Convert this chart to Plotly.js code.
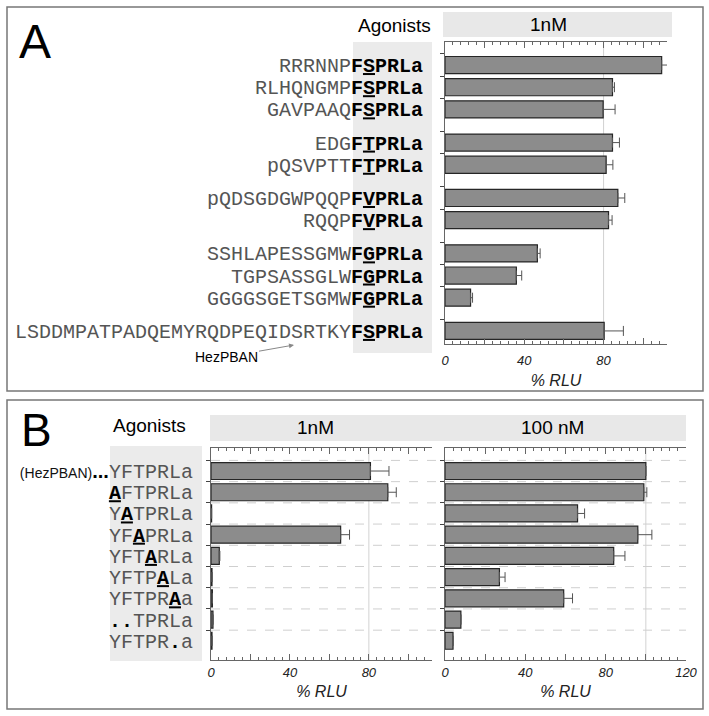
<!DOCTYPE html>
<html>
<head>
<meta charset="utf-8">
<script src="https://cdn.plot.ly/plotly-3.0.1.min.js"></script>
<style>html,body{margin:0;padding:0;background:#fff;}#chart{width:709px;height:716px;}</style>
</head>
<body>
<div id="chart"></div>
<script>
// ---------- Panel A data ----------
const A_prefix = ['RRRNNP','RLHQNGMP','GAVPAAQ','EDG','pQSVPTT','pQDSGDGWPQQP','RQQP','SSHLAPESSGMW','TGPSASSGLW','GGGGSGETSGMW','LSDDMPATPADQEMYRQDPEQIDSRTKY'];
const A_motif  = ['FSPRLa','FSPRLa','FSPRLa','FTPRLa','FTPRLa','FVPRLa','FVPRLa','FGPRLa','FGPRLa','FGPRLa','FSPRLa'];
const A_group  = [0,0,0,1,1,2,2,3,3,3,4];
const A_values = [109.3,84.5,79.8,84.5,81.3,87.2,82.5,46.6,36.0,12.9,80.3];
const A_err    = [4.4,1.0,6.0,3.5,3.4,3.5,1.8,1.4,2.7,1.0,9.7];
const A_ticks  = [0,20,40,60,80,100];
const A_tickLabels = ['0','','40','','80',''];

// ---------- Panel B data ----------
const B_seqs   = ['YFTPRLa','AFTPRLa','YATPRLa','YFAPRLa','YFTARLa','YFTPALa','YFTPRAa','..TPRLa','YFTPR.a'];
const B_mut    = [-1,0,1,2,3,4,5,-1,-1];
const B_1nM    = [80.8,89.6,0.3,65.7,4.2,0.5,0.7,1.0,0.5];
const B_1nM_err= [9.4,4.3,0,4.5,0.3,0,0,0,0];
const B_100nM  = [100,99.0,66.0,96.0,84.0,27.1,59.1,7.9,4.0];
const B_100nM_err = [0,1.5,3.5,7.0,5.6,2.8,4.4,0,0];
const B1_ticks = [0,20,40,60,80,100];
const B1_tickLabels = ['0','','40','','80',''];
const B2_ticks = [0,20,40,60,80,100,120];
const B2_tickLabels = ['0','','40','','80','','120'];

// ---------- helpers ----------
const W = 709, H = 716;
const fx = px => px / W;
const fy = py => 1 - py / H;
const GRAY = '#555';
const SANS = 'Liberation Sans, Arial, sans-serif';
const MONO = 'Liberation Mono, Courier New, monospace';

const A_pos = A_prefix.map((_, i) => i + 0.5 * A_group[i]);
const A_text = A_prefix.map((p, i) => {
  const m = A_motif[i];
  return '<span style="color:' + GRAY + '">' + p + '</span><b>' + m[0] + '<u>' + m[1] + '</u>' + m.slice(2) + '</b>';
});
const B_pos = B_seqs.map((_, i) => i);
const B_text = B_seqs.map((s, i) => {
  let out = '';
  for (let k = 0; k < s.length; k++) {
    const c = s[k];
    if (k === B_mut[i]) out += '<b><u>' + c + '</u></b>';
    else if (c === '.') out += '<b>' + c + '</b>';
    else out += '<span style="color:' + GRAY + '">' + c + '</span>';
  }
  if (i === 0) out = '<span style="font-family:Liberation Sans;font-size:14px;color:#111">(HezPBAN)</span><span style="font-family:Liberation Sans;font-size:20px"><b>...</b></span>' + out;
  return out;
});

function barTrace(x, y, err, xa, ya, w) {
  return {
    type: 'bar', orientation: 'h', x: x, y: y, xaxis: xa, yaxis: ya, width: w,
    marker: { color: '#8c8c8c', line: { color: '#262626', width: 1.2 } },
    error_x: { type: 'data', array: err, arrayminus: err.map(() => 0), symmetric: false,
               color: '#555', thickness: 1, width: 5 },
    hoverinfo: 'x+y', showlegend: false
  };
}

function xAxis(dom, rng, tv, tt, anchor, labelStandoff, titleStandoff) {
  return {
    domain: dom, range: rng, anchor: anchor, fixedrange: true,
    showline: true, linecolor: '#666', linewidth: 1, mirror: 'ticks',
    ticks: 'inside', ticklen: 6, tickcolor: '#666', tickwidth: 1,
    tickmode: 'array', tickvals: tv, ticktext: tt.map(t => t ? '<i>' + t + '</i>' : ''),
    tickfont: { family: SANS, size: 13, color: '#222' },
    ticklabelstandoff: labelStandoff,
    minor: { tickmode: 'linear', tick0: 0, dtick: 4, ticks: 'inside', ticklen: 3, tickcolor: '#666' },
    showgrid: false, zeroline: false,
    title: { text: '<i>% RLU</i>', font: { family: SANS, size: 16, color: '#222' }, standoff: titleStandoff }
  };
}

function yAxis(dom, rng, tv, tt, anchor, standoff, boundaries) {
  return {
    domain: dom, range: rng, anchor: anchor, fixedrange: true,
    showline: true, linecolor: '#666', linewidth: 1, mirror: false,
    ticks: '', tickmode: 'array', tickvals: tv, ticktext: tt,
    showticklabels: tt.length > 0,
    tickfont: { family: MONO, size: 20, color: '#000' },
    ticklabelstandoff: standoff,
    minor: { tickmode: 'array', tickvals: boundaries, ticks: 'outside', ticklen: 4, tickcolor: '#444' },
    showgrid: false, zeroline: false
  };
}

const traces = [
  barTrace(A_values, A_pos, A_err, 'x', 'y', 0.77),
  barTrace(B_1nM, B_pos, B_1nM_err, 'x2', 'y2', 0.8),
  barTrace(B_100nM, B_pos, B_100nM_err, 'x3', 'y3', 0.8)
];

const A_bounds = A_pos.map(p => p - 0.5);
const B_bounds = B_pos.map(p => p - 0.5);

const shapes = [
  // panel borders
  { type: 'rect', xref: 'paper', yref: 'paper', x0: fx(7), x1: fx(703), y0: fy(7), y1: fy(391), line: { color: '#777', width: 1.5 }, fillcolor: 'rgba(0,0,0,0)' },
  { type: 'rect', xref: 'paper', yref: 'paper', x0: fx(7), x1: fx(703), y0: fy(400), y1: fy(709), line: { color: '#777', width: 1.5 }, fillcolor: 'rgba(0,0,0,0)' },
  // agonist boxes
  { type: 'rect', xref: 'paper', yref: 'paper', x0: fx(353), x1: fx(432), y0: fy(42), y1: fy(353), line: { width: 0 }, fillcolor: '#ebebeb', layer: 'below' },
  { type: 'rect', xref: 'paper', yref: 'paper', x0: fx(110), x1: fx(202), y0: fy(446), y1: fy(661), line: { width: 0 }, fillcolor: '#ebebeb', layer: 'below' },
  // header bars
  { type: 'rect', xref: 'paper', yref: 'paper', x0: fx(443), x1: fx(672), y0: fy(12), y1: fy(37), line: { width: 0 }, fillcolor: '#e8e8e8', layer: 'below' },
  { type: 'rect', xref: 'paper', yref: 'paper', x0: fx(210), x1: fx(686), y0: fy(415), y1: fy(441), line: { width: 0 }, fillcolor: '#e8e8e8', layer: 'below' },
  // reference lines
  { type: 'line', xref: 'x', yref: 'y domain', x0: 80, x1: 80, y0: 0, y1: 1, line: { color: '#d2d2d2', width: 1 }, layer: 'below' },
  { type: 'line', xref: 'x2', yref: 'y2 domain', x0: 80, x1: 80, y0: 0, y1: 1, line: { color: '#d2d2d2', width: 1 }, layer: 'below' },
  { type: 'line', xref: 'x3', yref: 'y3 domain', x0: 100, x1: 100, y0: 0, y1: 1, line: { color: '#d2d2d2', width: 1 }, layer: 'below' }
];
// dashed row separators in B
B_bounds.forEach(b => {
  shapes.push({ type: 'line', xref: 'paper', yref: 'y2', x0: fx(211), x1: fx(686), y0: b, y1: b,
                line: { color: '#cfcfcf', width: 1, dash: 'dash' }, layer: 'below' });
});

const annotations = [
  { xref: 'paper', yref: 'paper', x: fx(35), y: fy(42), text: 'A', showarrow: false, font: { family: SANS, size: 48, color: '#000' }, xanchor: 'center', yanchor: 'middle' },
  { xref: 'paper', yref: 'paper', x: fx(36), y: fy(430), text: 'B', showarrow: false, font: { family: SANS, size: 46, color: '#000' }, xanchor: 'center', yanchor: 'middle' },
  { xref: 'paper', yref: 'paper', x: fx(394), y: fy(26), text: 'Agonists', showarrow: false, font: { family: SANS, size: 19, color: '#000' }, xanchor: 'center', yanchor: 'middle' },
  { xref: 'paper', yref: 'paper', x: fx(149), y: fy(426), text: 'Agonists', showarrow: false, font: { family: SANS, size: 19, color: '#000' }, xanchor: 'center', yanchor: 'middle' },
  { xref: 'paper', yref: 'paper', x: fx(548), y: fy(25), text: '1nM', showarrow: false, font: { family: SANS, size: 19, color: '#000' }, xanchor: 'center', yanchor: 'middle' },
  { xref: 'paper', yref: 'paper', x: fx(315), y: fy(427), text: '1nM', showarrow: false, font: { family: SANS, size: 19, color: '#000' }, xanchor: 'center', yanchor: 'middle' },
  { xref: 'paper', yref: 'paper', x: fx(552), y: fy(427), text: '100 nM', showarrow: false, font: { family: SANS, size: 19, color: '#000' }, xanchor: 'center', yanchor: 'middle' },
  { xref: 'paper', yref: 'paper', x: fx(294), y: fy(345), ax: -68, ay: 12, text: 'HezPBAN', showarrow: true,
    arrowhead: 2, arrowsize: 1, arrowwidth: 1, arrowcolor: '#888', font: { family: SANS, size: 14, color: '#000' } }
];

const layout = {
  width: W, height: H,
  margin: { l: 0, r: 0, t: 0, b: 0, pad: 0 },
  paper_bgcolor: '#fff', plot_bgcolor: 'rgba(0,0,0,0)',
  font: { family: SANS },
  showlegend: false, bargap: 0,
  xaxis:  xAxis([fx(445), fx(667)], [0, 112], A_ticks, A_tickLabels, 'y', 4, 8),
  yaxis:  yAxis([fy(344), fy(42)], [12.59, -1.04], A_pos, A_text, 'x', 17, A_bounds),
  xaxis2: xAxis([fx(211), fx(432)], [0, 112], B1_ticks, B1_tickLabels, 'y2', 0, 7),
  yaxis2: yAxis([fy(660), fy(448)], [8.906, -1.085], B_pos, B_text, 'x2', 13, B_bounds),
  xaxis3: xAxis([fx(445), fx(686)], [0, 120], B2_ticks, B2_tickLabels, 'y3', 0, 7),
  yaxis3: yAxis([fy(660), fy(448)], [8.906, -1.085], B_pos, [], 'x3', 13, B_bounds),
  shapes: shapes,
  annotations: annotations
};

Plotly.newPlot('chart', traces, layout, { displayModeBar: false, staticPlot: true });
</script>
</body>
</html>
